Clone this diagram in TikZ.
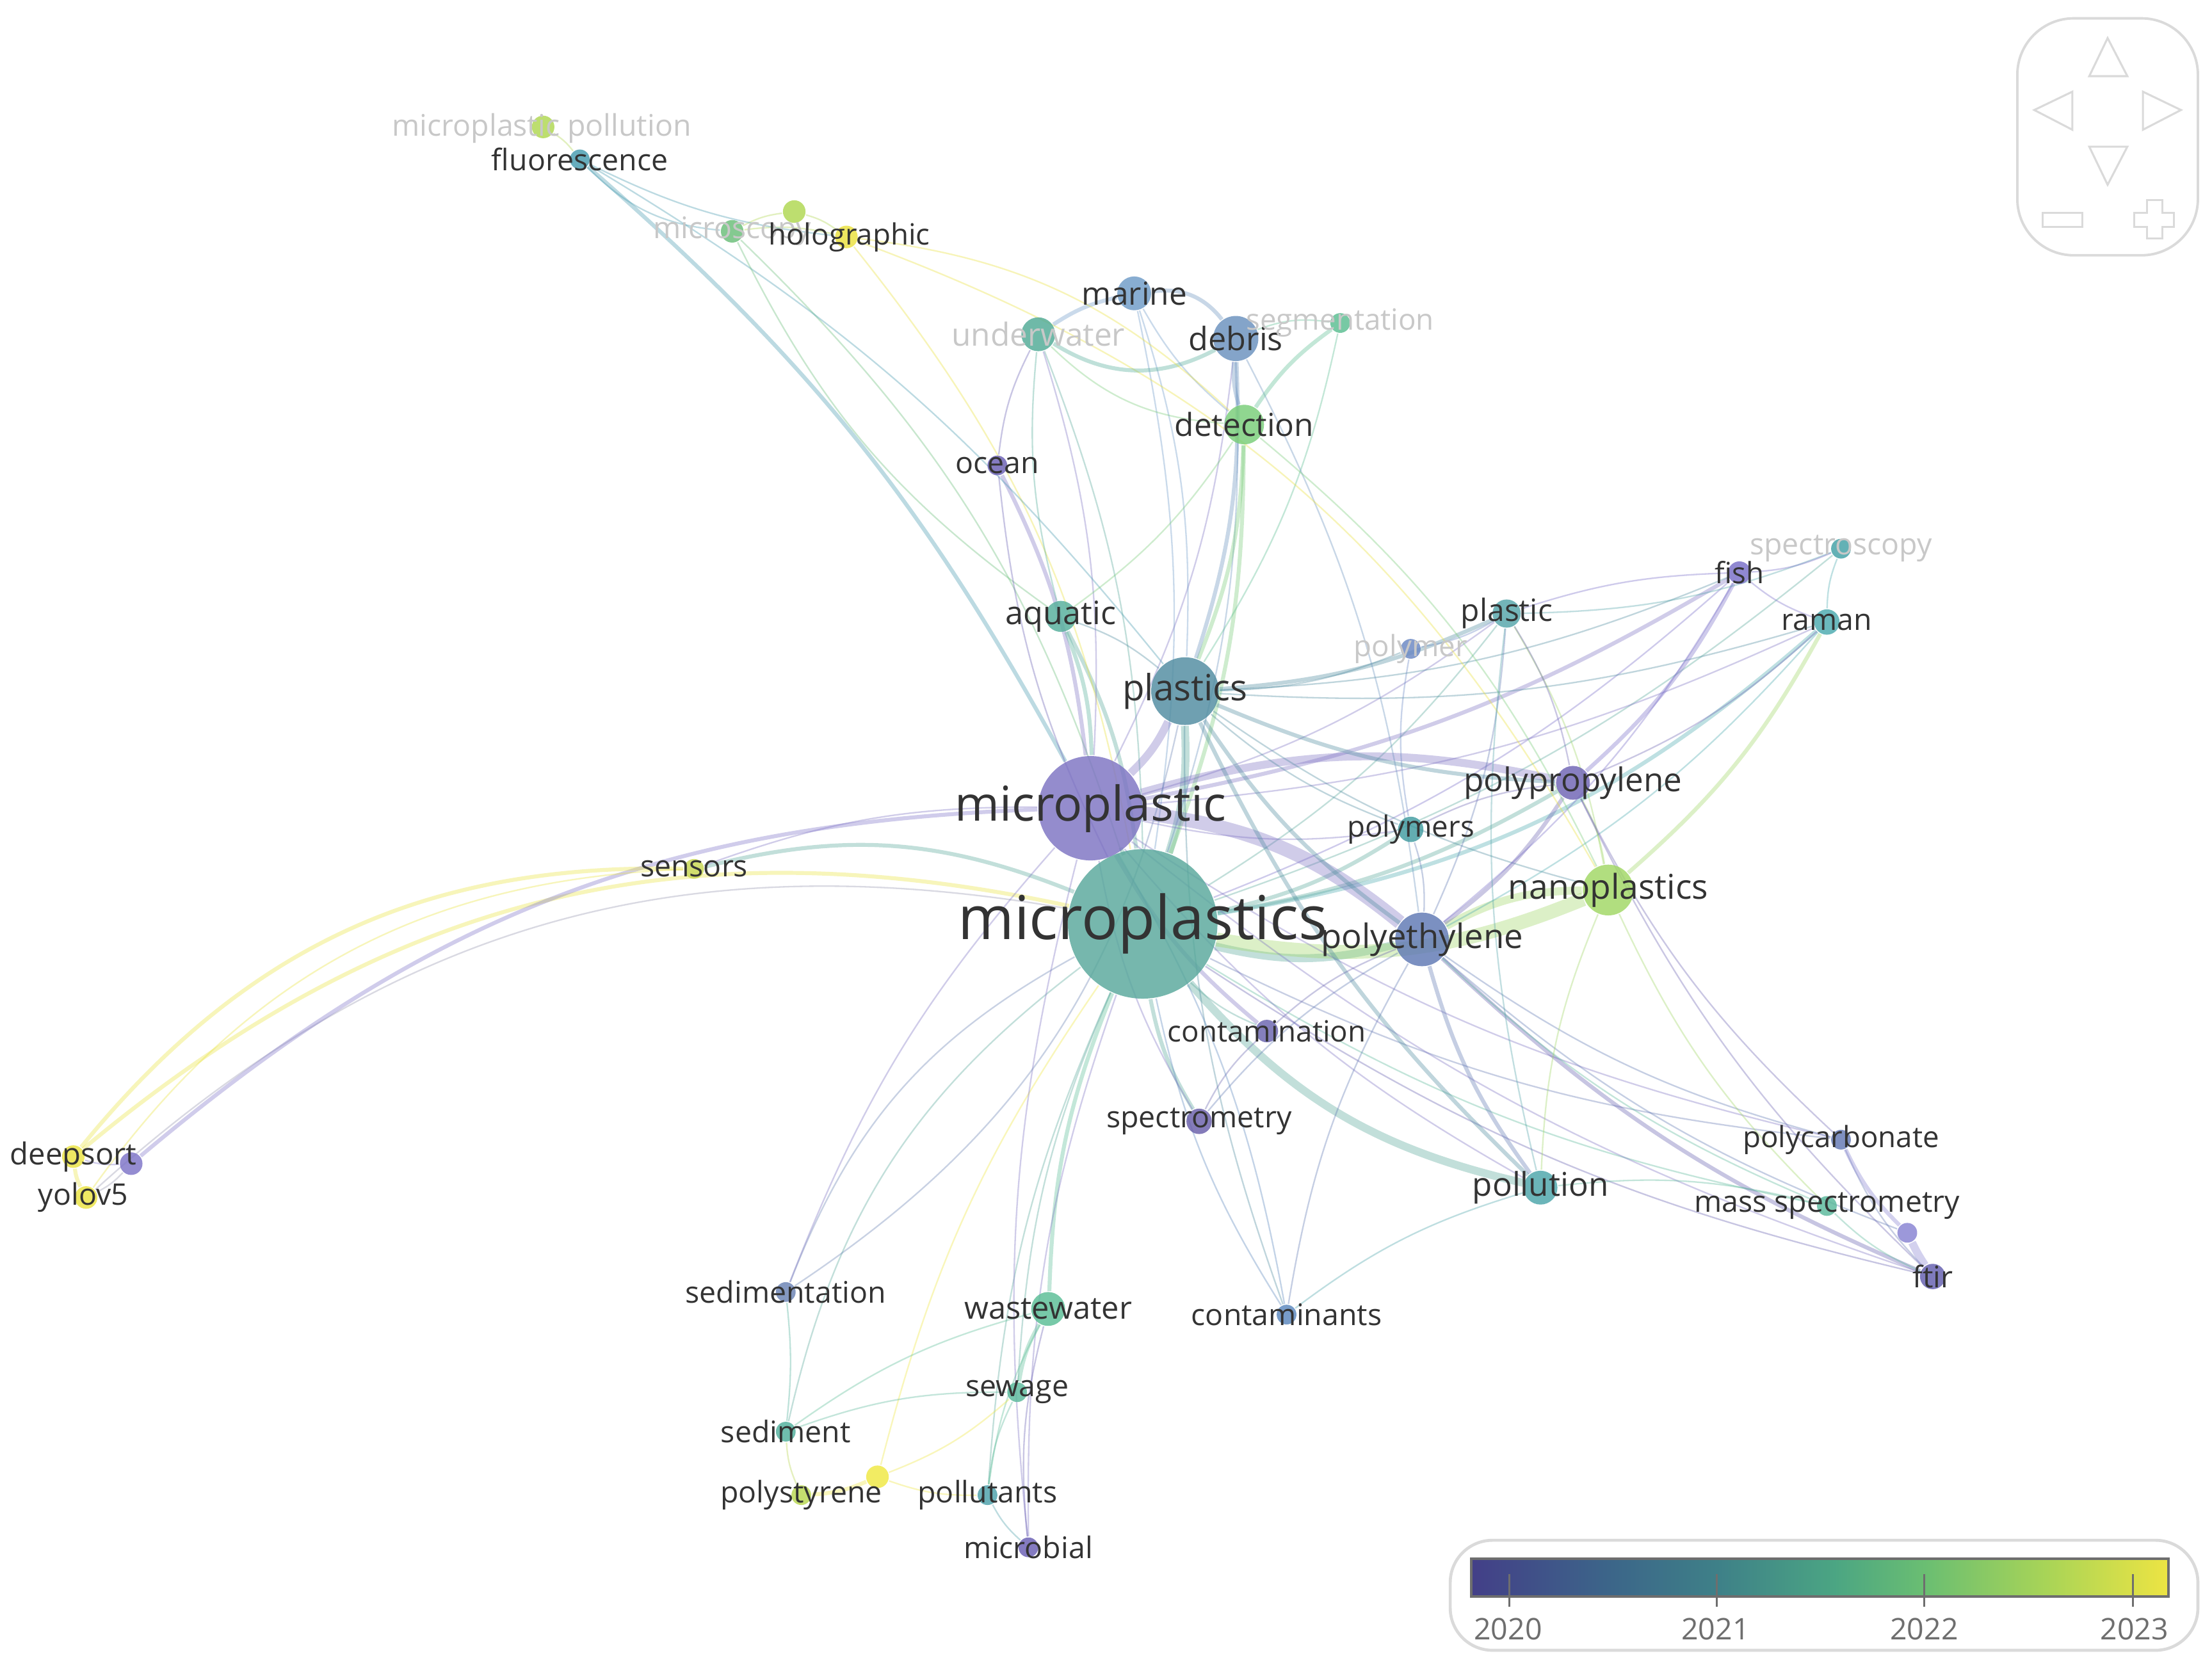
\documentclass[tikz,border=0pt]{standalone}
\usepackage{fontspec}
\setmainfont{Open Sans}

\definecolor{labc}{RGB}{51,51,51}
\definecolor{fadec}{RGB}{200,200,200}
\definecolor{framec}{RGB}{218,218,218}
\definecolor{tickc}{RGB}{110,110,110}
\definecolor{greyarc}{RGB}{150,150,175}

\definecolor{mps}{RGB}{88,168,155}
\definecolor{mpc}{RGB}{125,115,195}
\definecolor{plastics}{RGB}{80,140,160}
\definecolor{pe}{RGB}{95,120,180}
\definecolor{nano}{RGB}{160,215,100}
\definecolor{pp}{RGB}{110,100,180}
\definecolor{polymers}{RGB}{65,155,160}
\definecolor{contam}{RGB}{105,100,175}
\definecolor{spectrom}{RGB}{105,95,170}
\definecolor{pollution}{RGB}{75,165,170}
\definecolor{pc}{RGB}{100,120,180}
\definecolor{ms}{RGB}{90,185,155}
\definecolor{pu}{RGB}{135,130,210}
\definecolor{ftir}{RGB}{100,95,175}
\definecolor{plastic}{RGB}{85,165,170}
\definecolor{polymer}{RGB}{105,135,195}
\definecolor{fish}{RGB}{120,110,200}
\definecolor{spectros}{RGB}{65,160,165}
\definecolor{raman}{RGB}{75,170,175}
\definecolor{aquatic}{RGB}{85,175,155}
\definecolor{ocean}{RGB}{105,95,180}
\definecolor{detection}{RGB}{120,205,120}
\definecolor{debris}{RGB}{105,145,190}
\definecolor{marine}{RGB}{110,155,200}
\definecolor{underwater}{RGB}{80,170,150}
\definecolor{segm}{RGB}{90,190,145}
\definecolor{microsc}{RGB}{105,190,120}
\definecolor{holo}{RGB}{235,225,60}
\definecolor{lg}{RGB}{175,215,80}
\definecolor{mppoll}{RGB}{175,215,80}
\definecolor{fluor}{RGB}{70,155,175}
\definecolor{sensors}{RGB}{200,215,80}
\definecolor{deepsort}{RGB}{235,228,65}
\definecolor{dpu}{RGB}{125,115,200}
\definecolor{yolo}{RGB}{235,228,65}
\definecolor{sedimentation}{RGB}{105,130,180}
\definecolor{wastewater}{RGB}{90,190,150}
\definecolor{contaminants}{RGB}{90,135,190}
\definecolor{sewage}{RGB}{90,185,155}
\definecolor{sediment}{RGB}{80,175,155}
\definecolor{ps}{RGB}{185,215,80}
\definecolor{ys}{RGB}{240,232,65}
\definecolor{pollutants}{RGB}{75,160,170}
\definecolor{microbial}{RGB}{105,95,180}

\pgfdeclarelayer{bg}
\pgfdeclarelayer{edges}
\pgfsetlayers{bg,edges,main}

\begin{document}
\begin{tikzpicture}[x=0.1mm,y=-0.1mm,
  kw/.style={circle,inner sep=0pt,draw=none,fill opacity=0.82,minimum size=#1},
  lnk/.style={draw opacity=0.36,line width=0.3pt,bend right=10},
  wmid/.style={line width=0.8pt},
  wthk/.style={line width=1.6pt},
  wxthk/.style={line width=2.8pt},
  lbl/.style={text=labc,inner sep=0pt,font=\fontsize{#1}{#1}\selectfont},
  lbl/.default=6,
  fade/.style={text=fadec}]

\begin{pgfonlayer}{bg}
\fill[white] (0,0) rectangle (1568,1180);
\end{pgfonlayer}
\useasboundingbox (0,0) rectangle (1568,1180);

% keywords
\node[kw=10.6mm,fill=mps] (mps) at (810,655) {};
\node[kw=7.4mm,fill=mpc] (mpc) at (773,573) {};
\node[kw=4.8mm,fill=plastics] (plastics) at (840,490) {};
\node[kw=3.8mm,fill=pe] (pe) at (1008,666) {};
\node[kw=3.6mm,fill=nano] (nano) at (1140,631) {};
\node[kw=2.4mm,fill=pp] (pp) at (1115,555) {};
\node[kw=1.8mm,fill=polymers] (polymers) at (1000,588) {};
\node[kw=1.6mm,fill=contam] (contam) at (898,731) {};
\node[kw=1.8mm,fill=spectrom] (spectrom) at (850,795) {};
\node[kw=2.4mm,fill=pollution] (pollution) at (1092,842) {};
\node[kw=1.4mm,fill=pc] (pc) at (1305,808) {};
\node[kw=1.4mm,fill=ms] (ms) at (1295,855) {};
\node[kw=1.4mm,fill=pu] (pu) at (1352,874) {};
\node[kw=1.8mm,fill=ftir] (ftir) at (1370,905) {};
\node[kw=2.0mm,fill=plastic] (plastic) at (1068,435) {};
\node[kw=1.4mm,fill=polymer] (polymer) at (1000,460) {};
\node[kw=1.6mm,fill=fish] (fish) at (1233,406) {};
\node[kw=1.4mm,fill=spectros] (spectros) at (1305,389) {};
\node[kw=1.8mm,fill=raman] (raman) at (1295,441) {};
\node[kw=2.2mm,fill=aquatic] (aquatic) at (752,437) {};
\node[kw=1.4mm,fill=ocean] (ocean) at (707,330) {};
\node[kw=2.8mm,fill=detection] (detection) at (882,301) {};
\node[kw=3.2mm,fill=debris] (debris) at (876,240) {};
\node[kw=2.4mm,fill=marine] (marine) at (804,208) {};
\node[kw=2.4mm,fill=underwater] (underwater) at (736,237) {};
\node[kw=1.4mm,fill=segm] (segm) at (950,229) {};
\node[kw=1.6mm,fill=microsc] (microsc) at (519,164) {};
\node[kw=1.6mm,fill=holo] (holo) at (600,168) {};
\node[kw=1.6mm,fill=lg] (lg) at (563,150) {};
\node[kw=1.6mm,fill=mppoll] (mppoll) at (385,90) {};
\node[kw=1.4mm,fill=fluor] (fluor) at (411,113) {};
\node[kw=1.4mm,fill=sensors] (sensors) at (492,616) {};
\node[kw=1.6mm,fill=deepsort] (deepsort) at (52,820) {};
\node[kw=1.6mm,fill=dpu] (dpu) at (93,825) {};
\node[kw=1.6mm,fill=yolo] (yolo) at (61,849) {};
\node[kw=1.4mm,fill=sedimentation] (sedimentation) at (557,916) {};
\node[kw=2.4mm,fill=wastewater] (wastewater) at (743,928) {};
\node[kw=1.4mm,fill=contaminants] (contaminants) at (912,932) {};
\node[kw=1.4mm,fill=sewage] (sewage) at (721,987) {};
\node[kw=1.4mm,fill=sediment] (sediment) at (557,1015) {};
\node[kw=1.4mm,fill=ps] (ps) at (568,1060) {};
\node[kw=1.6mm,fill=ys] (ys) at (622,1047) {};
\node[kw=1.4mm,fill=pollutants] (pollutants) at (700,1060) {};
\node[kw=1.4mm,fill=microbial] (microbial) at (729,1097) {};

\begin{pgfonlayer}{edges}
% microplastics
\draw[lnk,wthk,draw=mps] (mps) to (plastics);
\draw[lnk,wthk,draw=mps] (mps) to (mpc);
\draw[lnk,wthk,draw=mps,bend right=14] (mps) to (pe);
\draw[lnk,wxthk,draw=nano,bend right=16] (mps) to (nano);
\draw[lnk,wthk,draw=mps,bend right=18] (mps) to (pollution);
\draw[lnk,wmid,draw=mps,bend right=18] (mps) to (sensors);
\draw[lnk,draw=deepsort,wmid,bend right=26] (mps) to (deepsort);
\draw[lnk,draw=greyarc,bend right=26] (mps) to (yolo);
\draw[lnk,wmid,draw=raman,bend right=16] (mps) to (raman);
\draw[lnk,draw=mps] (mps) to (spectros);
\draw[lnk,draw=mps] (mps) to (plastic);
\draw[lnk,wmid,draw=mps] (mps) to (polymers);
\draw[lnk,wmid,draw=mps] (mps) to (pp);
\draw[lnk,draw=mps] (mps) to (contam);
\draw[lnk,wmid,draw=mps] (mps) to (spectrom);
\draw[lnk,wmid,draw=wastewater] (mps) to (wastewater);
\draw[lnk,draw=mps] (mps) to (sewage);
\draw[lnk,draw=mps,bend right=20] (mps) to (sediment);
\draw[lnk,draw=sedimentation,bend right=20] (mps) to (sedimentation);
\draw[lnk,draw=mps] (mps) to (pollutants);
\draw[lnk,draw=mpc] (mps) to (microbial);
\draw[lnk,draw=contaminants] (mps) to (contaminants);
\draw[lnk,wmid,draw=mps] (mps) to (aquatic);
\draw[lnk,wmid,draw=detection] (mps) to (detection);
\draw[lnk,draw=debris] (mps) to (debris);
\draw[lnk,draw=marine] (mps) to (marine);
\draw[lnk,draw=mps] (mps) to (underwater);
\draw[lnk,draw=microsc,bend right=14] (mps) to (microsc);
\draw[lnk,draw=holo,bend right=14] (mps) to (holo);
\draw[lnk,draw=pc] (mps) to (pc);
\draw[lnk,draw=ms] (mps) to (ms);
\draw[lnk,draw=ftir] (mps) to (ftir);
\draw[lnk,draw=fish] (mps) to (fish);
\draw[lnk,draw=ys] (mps) to (ys);
% microplastic
\draw[lnk,wthk,draw=mpc] (mpc) to (plastics);
\draw[lnk,wxthk,draw=mpc,bend left=16] (mpc) to (pe);
\draw[lnk,wthk,draw=mpc,bend left=14] (mpc) to (pp);
\draw[lnk,wmid,draw=mpc] (mpc) to (fish);
\draw[lnk,wmid,draw=mpc] (mpc) to (ocean);
\draw[lnk,wmid,draw=aquatic] (mpc) to (aquatic);
\draw[lnk,wmid,draw=fluor] (mpc) to (fluor);
\draw[lnk,wmid,draw=mpc] (mpc) to (contam);
\draw[lnk,draw=mpc] (mpc) to (spectrom);
\draw[lnk,draw=mpc] (mpc) to (sensors);
\draw[lnk,wmid,draw=dpu,bend right=19] (mpc) to (dpu);
\draw[lnk,draw=mpc] (mpc) to (microbial);
\draw[lnk,draw=mpc] (mpc) to (pollution);
\draw[lnk,draw=mpc] (mpc) to (raman);
\draw[lnk,draw=mpc] (mpc) to (polymers);
\draw[lnk,draw=mpc] (mpc) to (plastic);
\draw[lnk,draw=mpc] (mpc) to (underwater);
\draw[lnk,draw=mpc] (mpc) to (debris);
\draw[lnk,draw=mpc] (mpc) to (ftir);
\draw[lnk,draw=mpc] (mpc) to (pc);
\draw[lnk,draw=mpc] (mpc) to (sedimentation);
% plastics
\draw[lnk,wmid,draw=plastics] (plastics) to (pe);
\draw[lnk,draw=plastics] (plastics) to (nano);
\draw[lnk,wmid,draw=plastics] (plastics) to (pp);
\draw[lnk,draw=plastics] (plastics) to (polymers);
\draw[lnk,wmid,draw=plastics] (plastics) to (plastic);
\draw[lnk,draw=plastics] (plastics) to (polymer);
\draw[lnk,wmid,draw=detection] (plastics) to (detection);
\draw[lnk,wmid,draw=debris] (plastics) to (debris);
\draw[lnk,draw=marine] (plastics) to (marine);
\draw[lnk,draw=segm] (plastics) to (segm);
\draw[lnk,draw=fluor] (plastics) to (fluor);
\draw[lnk,draw=plastics] (plastics) to (aquatic);
\draw[lnk,wmid,draw=plastics] (plastics) to (pollution);
\draw[lnk,draw=plastics] (plastics) to (contaminants);
\draw[lnk,draw=sedimentation,bend left=22] (plastics) to (sedimentation);
\draw[lnk,draw=plastics] (plastics) to (fish);
\draw[lnk,draw=plastics] (plastics) to (raman);
% polyethylene, nanoplastics, polypropylene
\draw[lnk,wthk,draw=nano,bend left=14] (pe) to (nano);
\draw[lnk,wmid,draw=pp] (pe) to (pp);
\draw[lnk,draw=pe] (pe) to (polymers);
\draw[lnk,wmid,draw=pe] (pe) to (pollution);
\draw[lnk,draw=pe] (pe) to (pc);
\draw[lnk,wmid,draw=ftir] (pe) to (ftir);
\draw[lnk,draw=pe] (pe) to (pu);
\draw[lnk,draw=ms] (pe) to (ms);
\draw[lnk,draw=fish] (pe) to (fish);
\draw[lnk,draw=raman] (pe) to (raman);
\draw[lnk,draw=pe] (pe) to (plastic);
\draw[lnk,draw=contam] (pe) to (contam);
\draw[lnk,draw=pe] (pe) to (spectrom);
\draw[lnk,draw=debris] (pe) to (debris);
\draw[lnk,draw=pe] (pe) to (contaminants);
\draw[lnk,draw=nano] (nano) to (pp);
\draw[lnk,draw=nano] (nano) to (pollution);
\draw[lnk,draw=nano] (nano) to (ms);
\draw[lnk,wmid,draw=nano] (nano) to (raman);
\draw[lnk,draw=nano] (nano) to (plastic);
\draw[lnk,draw=detection,bend left=12] (detection) to (nano);
\draw[lnk,draw=holo,bend left=20] (holo) to (nano);
\draw[lnk,draw=pp] (pp) to (polymers);
\draw[lnk,wmid,draw=fish] (pp) to (fish);
\draw[lnk,draw=pp] (pp) to (raman);
\draw[lnk,draw=pp] (pp) to (ftir);
\draw[lnk,draw=pp] (pp) to (pc);
\draw[lnk,draw=pp] (pp) to (plastic);
% right group
\draw[lnk,draw=polymer] (polymer) to (plastic);
\draw[lnk,draw=polymer] (polymer) to (polymers);
\draw[lnk,draw=fish,bend left=8] (plastic) to (fish);
\draw[lnk,draw=plastic] (plastic) to (spectros);
\draw[lnk,draw=plastic] (plastic) to (pollution);
\draw[lnk,draw=fish] (fish) to (spectros);
\draw[lnk,draw=fish] (fish) to (raman);
\draw[lnk,draw=raman] (spectros) to (raman);
\draw[lnk,draw=pc] (pc) to (ftir);
\draw[lnk,wmid,draw=pu] (pc) to (pu);
\draw[lnk,wthk,draw=pu,bend right=4] (pu) to (ftir);
\draw[lnk,draw=ms] (ms) to (pollution);
\draw[lnk,draw=ms] (ms) to (ftir);
\draw[lnk,draw=pollution] (pollution) to (contaminants);
\draw[lnk,draw=contam] (contam) to (spectrom);
% top group
\draw[lnk,wmid,draw=debris,bend right=30] (debris) to (marine);
\draw[lnk,wmid,draw=underwater,bend right=30] (underwater) to (debris);
\draw[lnk,wmid,draw=marine] (marine) to (underwater);
\draw[lnk,draw=segm,bend left=14] (debris) to (segm);
\draw[lnk,wmid,draw=debris] (debris) to (detection);
\draw[lnk,wmid,draw=segm] (segm) to (detection);
\draw[lnk,draw=detection,bend right=20] (underwater) to (detection);
\draw[lnk,draw=underwater] (underwater) to (aquatic);
\draw[lnk,draw=ocean] (underwater) to (ocean);
\draw[lnk,draw=marine] (marine) to (detection);
\draw[lnk,draw=lg] (holo) to (microsc);
\draw[lnk,draw=lg] (holo) to (lg);
\draw[lnk,draw=lg] (lg) to (microsc);
\draw[lnk,draw=mppoll] (fluor) to (mppoll);
\draw[lnk,draw=fluor,bend right=20] (fluor) to (microsc);
\draw[lnk,draw=fluor] (fluor) to (holo);
\draw[lnk,draw=microsc,bend right=14] (microsc) to (aquatic);
\draw[lnk,draw=holo,bend left=18] (holo) to (detection);
\draw[lnk,draw=ocean] (ocean) to (mps);
\draw[lnk,draw=detection] (aquatic) to (detection);
% left group
\draw[lnk,wmid,draw=deepsort,bend right=26] (sensors) to (deepsort);
\draw[lnk,draw=yolo,bend right=26] (sensors) to (yolo);
\draw[lnk,wmid,draw=yolo] (deepsort) to (yolo);
\draw[lnk,draw=dpu] (deepsort) to (dpu);
\draw[lnk,draw=greyarc] (yolo) to (dpu);
% bottom group
\draw[lnk,wmid,draw=wastewater] (wastewater) to (sewage);
\draw[lnk,draw=wastewater] (wastewater) to (sediment);
\draw[lnk,draw=wastewater] (wastewater) to (pollutants);
\draw[lnk,draw=microbial] (wastewater) to (microbial);
\draw[lnk,draw=sewage] (sewage) to (sediment);
\draw[lnk,draw=sewage] (sewage) to (pollutants);
\draw[lnk,draw=sediment,bend right=6] (sediment) to (sedimentation);
\draw[lnk,draw=ps] (sediment) to (ps);
\draw[lnk,wmid,draw=ys] (ps) to (ys);
\draw[lnk,draw=ys] (ys) to (sewage);
\draw[lnk,draw=ys] (ys) to (pollutants);
\draw[lnk,draw=pollutants] (pollutants) to (microbial);
\draw[lnk,draw=contaminants] (contaminants) to (mpc);
\end{pgfonlayer}

% labels
\node[lbl=12.2] (mps-t) at (mps) {microplastics};
\node[lbl=9.7] (mpc-t) at (mpc) {microplastic};
\node[lbl=7.3] (plastics-t) at (plastics) {plastics};
\node[lbl=6.8] (pe-t) at (pe) {polyethylene};
\node[lbl=6.9] (nano-t) at (nano) {nanoplastics};
\node[lbl=6.6] (pp-t) at (pp) {polypropylene};
\node[lbl=5.9] (polymers-t) at (polymers) {polymers};
\node[lbl=5.9] (contam-t) at (contam) {contamination};
\node[lbl=6] (spectrom-t) at (spectrom) {spectrometry};
\node[lbl=6.6] (pollution-t) at (pollution) {pollution};
\node[lbl=5.9] (pc-t) at (pc) {polycarbonate};
\node[lbl=6] (ms-t) at (ms) {mass spectrometry};
\node[lbl=6] (ftir-t) at (ftir) {ftir};
\node[lbl=6.2] (plastic-t) at (plastic) {plastic};
\node[lbl=5.9,fade] (polymer-t) at (polymer) {polymer};
\node[lbl=5.9] (fish-t) at (fish) {fish};
\node[lbl=6,fade] (spectros-t) at (spectros) {spectroscopy};
\node[lbl=6] (raman-t) at (raman) {raman};
\node[lbl=6.5] (aquatic-t) at (aquatic) {aquatic};
\node[lbl=6] (ocean-t) at (ocean) {ocean};
\node[lbl=6.4] (detection-t) at (detection) {detection};
\node[lbl=6.5] (debris-t) at (debris) {debris};
\node[lbl=6.4] (marine-t) at (marine) {marine};
\node[lbl=6.4,fade] (underwater-t) at (underwater) {underwater};
\node[lbl=5.9,fade] (segm-t) at (segm) {segmentation};
\node[lbl=6,fade] (microsc-t) at (microsc) {microscopy};
\node[lbl=5.9] (holo-t) at (602,168) {holographic};
\node[lbl=6,fade] (mppoll-t) at (384,91) {microplastic pollution};
\node[lbl=6] (fluor-t) at (fluor) {fluorescence};
\node[lbl=6] (sensors-t) at (sensors) {sensors};
\node[lbl=6.1] (deepsort-t) at (deepsort) {deepsort};
\node[lbl=6] (yolo-t) at (59,849) {yolov5};
\node[lbl=6] (sedimentation-t) at (sedimentation) {sedimentation};
\node[lbl=6.3] (wastewater-t) at (wastewater) {wastewater};
\node[lbl=6] (contaminants-t) at (contaminants) {contaminants};
\node[lbl=6] (sewage-t) at (sewage) {sewage};
\node[lbl=6] (sediment-t) at (sediment) {sediment};
\node[lbl=6] (ps-t) at (ps) {polystyrene};
\node[lbl=6] (pollutants-t) at (pollutants) {pollutants};
\node[lbl=6] (microbial-t) at (microbial) {microbial};

% navigation
\draw[framec,line width=0.5pt,rounded corners=4mm] (1430,13) rectangle (1558,181);
\draw[framec,line width=0.4pt] (1494,27) -- (1481,54) -- (1508,54) -- cycle;
\draw[framec,line width=0.4pt] (1494,131) -- (1481,104) -- (1508,104) -- cycle;
\draw[framec,line width=0.4pt] (1442,78) -- (1469,65) -- (1469,92) -- cycle;
\draw[framec,line width=0.4pt] (1546,78) -- (1519,65) -- (1519,92) -- cycle;
\draw[framec,line width=0.4pt] (1448,151) rectangle (1476,161);
\draw[framec,line width=0.4pt] (1522,142) -- (1533,142) -- (1533,151) -- (1541,151) -- (1541,161)
  -- (1533,161) -- (1533,169) -- (1522,169) -- (1522,161) -- (1513,161) -- (1513,151)
  -- (1522,151) -- cycle;

% legend
\draw[framec,line width=0.6pt,rounded corners=3mm] (1028,1092) rectangle (1558,1170);
\shade[left color={rgb,255:red,67;green,63;blue,136},right color={rgb,255:red,60;green,101;blue,137}] (1043,1105) rectangle (1140,1132);
\shade[left color={rgb,255:red,60;green,101;blue,137},right color={rgb,255:red,62;green,128;blue,136}] (1140,1105) rectangle (1217,1132);
\shade[left color={rgb,255:red,62;green,128;blue,136},right color={rgb,255:red,75;green,165;blue,131}] (1217,1105) rectangle (1300,1132);
\shade[left color={rgb,255:red,75;green,165;blue,131},right color={rgb,255:red,106;green,190;blue,114}] (1300,1105) rectangle (1364,1132);
\shade[left color={rgb,255:red,106;green,190;blue,114},right color={rgb,255:red,168;green,212;blue,87}] (1364,1105) rectangle (1450,1132);
\shade[left color={rgb,255:red,168;green,212;blue,87},right color={rgb,255:red,237;green,228;blue,67}] (1450,1105) rectangle (1537,1132);
\draw[tickc,line width=0.5pt] (1043,1105) rectangle (1537,1132);
\draw[tickc,line width=0.4pt] (1070,1116) -- (1070,1139);
\draw[tickc,line width=0.4pt] (1217,1116) -- (1217,1139);
\draw[tickc,line width=0.4pt] (1364,1116) -- (1364,1139);
\draw[tickc,line width=0.4pt] (1512,1116) -- (1512,1139);
\node[lbl=6,text=tickc] (y2020) at (1069,1155) {2020};
\node[lbl=6,text=tickc] (y2021) at (1216,1155) {2021};
\node[lbl=6,text=tickc] (y2022) at (1364,1155) {2022};
\node[lbl=6,text=tickc] (y2023) at (1513,1155) {2023};
\end{tikzpicture}
\end{document}
